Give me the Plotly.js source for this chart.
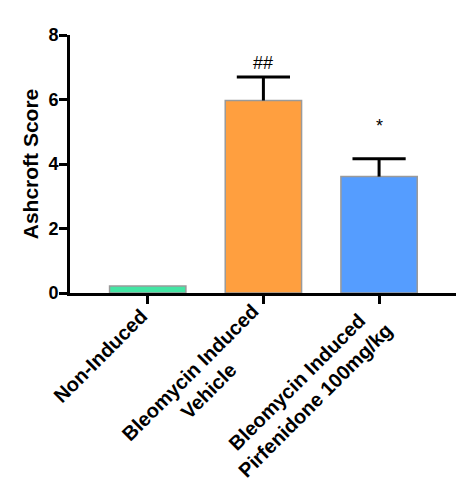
<!DOCTYPE html>
<html>
<head>
<meta charset="utf-8">
<script src="https://cdn.plot.ly/plotly-3.0.1.min.js"></script>
<style>html,body{margin:0;padding:0;background:#fff;}</style>
</head>
<body>
<div id="chart" style="width:469px;height:500px;"></div>
<script>
// Data
var groups = ["Non-Induced", "Bleomycin Induced<br>Vehicle", "Bleomycin Induced<br>Pirfenidone 100mg/kg"];
var scores = [0.22, 5.97, 3.61];
var errUp = [0, 0.73, 0.55];
var barColors = ["#44e5a4", "#ff9f3f", "#559dff"];
var sigMarks = ["", "##", "*"];
var yTicks = [0, 2, 4, 6, 8];

var idx = groups.map(function (g, i) { return i; });
var FONT = "Arial, 'Liberation Sans', Helvetica, sans-serif";
var LABEL_SIZE = 20;

var bars = {
  type: "bar",
  x: idx,
  y: scores,
  width: 0.66,
  marker: { color: barColors, line: { color: "#9a9a9a", width: 1.5 } },
  error_y: {
    type: "data", symmetric: false, array: errUp,
    arrayminus: errUp.map(function () { return 0; }),
    color: "#000", thickness: 3, width: 0
  },
  hoverinfo: "none"
};

// caps on top of the error bars (only where an error exists)
var capX = [], capY = [];
idx.forEach(function (i) {
  if (errUp[i] > 0) { capX.push(i); capY.push(scores[i] + errUp[i]); }
});
var caps = {
  type: "scatter", mode: "markers", x: capX, y: capY,
  marker: { symbol: "line-ew", size: 38, line: { color: "#000", width: 3 } },
  hoverinfo: "none", cliponaxis: false
};

// rotated category labels: right end of the (centred) text block sits just below its tick
var ctx = document.createElement("canvas").getContext("2d");
ctx.font = "700 " + LABEL_SIZE + "px " + FONT;
var R = Math.SQRT1_2;
var annotations = [];
groups.forEach(function (g, i) {
  var lines = g.split("<br>");
  var w = Math.max.apply(null, lines.map(function (l) { return ctx.measureText(l).width; }));
  var cu = -14 - w / 2;                       // along the text direction
  var cn = 13.5 + 7 * (lines.length - 1);     // perpendicular (down-right)
  var cx = R * (cu + cn) - 4, cy = R * (cn - cu);
  annotations.push({
    text: g, x: i, xref: "x", y: 0, yref: "paper",
    xanchor: "center", yanchor: "middle", textangle: -45, align: "center",
    xshift: cx, yshift: -cy, showarrow: false,
    font: { family: FONT, size: LABEL_SIZE, color: "#000", weight: 700 }
  });
});
var sigShift = [0, 14, 33];
sigMarks.forEach(function (m, i) {
  if (!m) return;
  annotations.push({
    text: m, x: i, xref: "x", y: scores[i] + errUp[i], yref: "y",
    xanchor: "center", yanchor: "middle", yshift: sigShift[i],
    showarrow: false, font: { family: FONT, size: 18, color: "#000" }
  });
});

var layout = {
  width: 469, height: 500,
  margin: { l: 70, r: 13, t: 35, b: 207, pad: 0 },
  paper_bgcolor: "#fff", plot_bgcolor: "#fff",
  showlegend: false,
  font: { family: FONT, color: "#000" },
  xaxis: {
    range: [-0.672, 2.665], tickvals: idx, showticklabels: false,
    ticks: "outside", ticklen: 8, tickwidth: 3, tickcolor: "#000",
    showline: true, linewidth: 3, linecolor: "#000",
    showgrid: false, zeroline: false, fixedrange: true
  },
  yaxis: {
    range: [0, 8], tickvals: yTicks, ticktext: yTicks.map(String),
    ticks: "outside", ticklen: 8, tickwidth: 3, tickcolor: "#000",
    ticklabelstandoff: -3,
    tickfont: { family: FONT, size: 18, color: "#000", weight: 700 },
    showline: true, linewidth: 3, linecolor: "#000",
    showgrid: false, zeroline: false, fixedrange: true,
    title: { text: "Ashcroft Score", standoff: 5,
             font: { family: FONT, size: 21, color: "#000", weight: 700 } }
  },
  annotations: annotations
};

Plotly.newPlot("chart", [bars, caps], layout, { displayModeBar: false, staticPlot: true });
</script>
</body>
</html>
